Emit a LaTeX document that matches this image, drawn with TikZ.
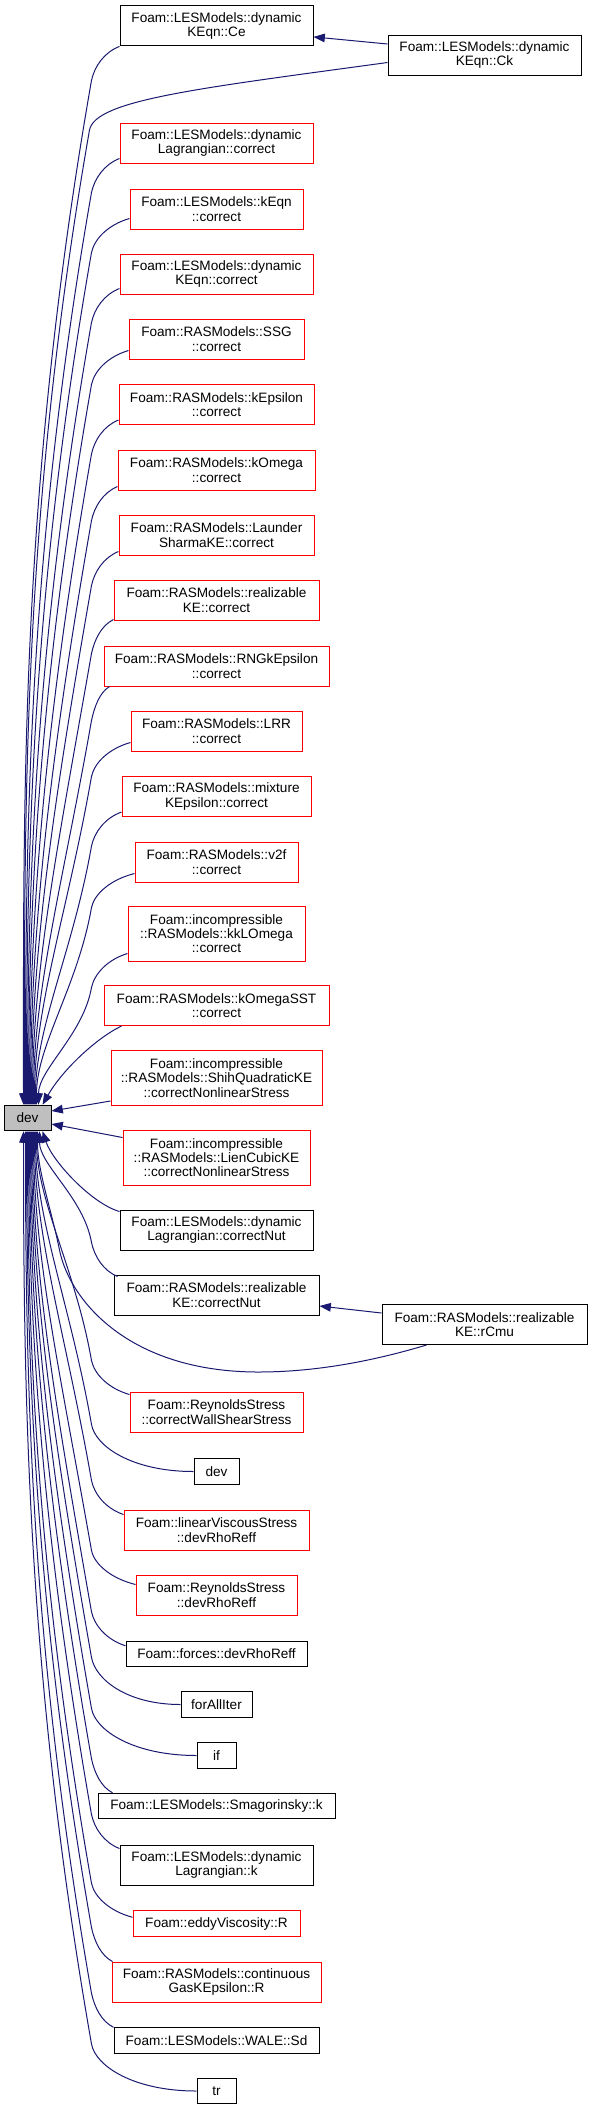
\documentclass[tikz,border=0pt]{standalone}
\usepackage{fontspec}
\setmainfont{Liberation Sans}
\usetikzlibrary{arrows.meta,calc}
\definecolor{edgecol}{HTML}{191970}
\definecolor{devfill}{HTML}{BFBFBF}
% upper edges: node, width(px), start dx, start dy (from south west), bottom y, end x offset on dev
\newcommand\UpEdge[6]{%
  \pgfmathsetmacro\ueSX{216.5-#2/2+#3}%
  \pgfmathsetmacro\ueDX{92-\ueSX}%
  \pgfmathsetmacro\ueCa{0.55*\ueDX}%
  \pgfmathsetmacro\ueD{1105-(#5+#4+34)}%
  \pgfmathsetmacro\ueA{-0.07*\ueD}%
  \pgfmathsetmacro\ueB{0.4*\ueD}%
  \pgfmathsetmacro\ueC{-0.3*\ueD}%
  \draw[edge] ($(#1.south west)+(#3,#4)$) .. controls +(\ueCa,6) and +(3,-14) .. ++(\ueDX,34)
    .. controls +(\ueA,\ueB) and +(0,\ueC) .. ($(dev.north west)+(#6,0)$);}
% lower edges: node, width(px), start dx, start dy (from north west), top y, end x offset on dev
\newcommand\LowEdge[6]{%
  \pgfmathsetmacro\leSX{216.5-#2/2+#3}%
  \pgfmathsetmacro\leDX{92-\leSX}%
  \pgfmathsetmacro\leCa{0.55*\leDX}%
  \pgfmathsetmacro\leD{(#5+#4-34)-1131}%
  \pgfmathsetmacro\leA{-0.07*\leD}%
  \pgfmathsetmacro\leB{-0.4*\leD}%
  \pgfmathsetmacro\leC{0.3*\leD}%
  \draw[edge] ($(#1.north west)+(#3,#4)$) .. controls +(\leCa,-6) and +(3,14) .. ++(\leDX,-34)
    .. controls +(\leA,\leB) and +(0,\leC) .. ($(dev.south west)+(#6,0)$);}
% lower single-line edges: node, width(px), centre y, end x offset on dev
\newcommand\LowEdgeS[4]{%
  \pgfmathsetmacro\lsSX{216.5-#2/2}%
  \pgfmathsetmacro\lsDX{92-\lsSX}%
  \pgfmathsetmacro\lsCa{0.6*\lsDX}%
  \pgfmathsetmacro\lsD{(#3-47)-1131}%
  \pgfmathsetmacro\lsA{-0.07*\lsD}%
  \pgfmathsetmacro\lsB{-0.4*\lsD}%
  \pgfmathsetmacro\lsC{0.3*\lsD}%
  \draw[edge] (#1.west) .. controls +(\lsCa,0) and +(4,22) .. ++(\lsDX,-47)
    .. controls +(\lsA,\lsB) and +(0,\lsC) .. ($(dev.south west)+(#4,0)$);}
\begin{document}
\begin{tikzpicture}[x=0.75pt,y=-0.75pt,
  nd/.style={draw, line width=0.75pt, fill=white, align=center, inner xsep=1pt, inner ysep=0pt,
             font=\fontsize{10.2}{10.75}\selectfont},
  rnd/.style={nd, draw=red},
  bnd/.style={nd, draw=black},
  one/.style={minimum height=19.1pt},
  two/.style={minimum height=30pt},
  three/.style={minimum height=41.25pt},
  wd/.style={minimum width=#1*0.75pt},
  edge/.style={draw=edgecol, line width=0.75pt, -{Triangle[length=8.5pt,width=6.5pt]}}]
\useasboundingbox (0,0) rectangle (592,2110);

% central node
\node[bnd, one, wd=47, fill=devfill] (dev) at (27.5,1118) {dev};

% callers above
\node[bnd, two, wd=193] (ce)  at (216.5,25.9) {Foam::LESModels::dynamic\\KEqn::Ce};
\node[bnd, two, wd=193] (ck)  at (484.5,55) {Foam::LESModels::dynamic\\KEqn::Ck};
\node[rnd, two, wd=193] (dlc) at (216.5,143) {Foam::LESModels::dynamic\\Lagrangian::correct};
\node[rnd, two, wd=173] (kec) at (216.5,209) {Foam::LESModels::kEqn\\::correct};
\node[rnd, two, wd=193] (dkc) at (216.5,274) {Foam::LESModels::dynamic\\KEqn::correct};
\node[rnd, two, wd=175] (ssg) at (216.5,339) {Foam::RASModels::SSG\\::correct};
\node[rnd, two, wd=195] (kep) at (216.5,404.5) {Foam::RASModels::kEpsilon\\::correct};
\node[rnd, two, wd=197] (kom) at (216.5,470) {Foam::RASModels::kOmega\\::correct};
\node[rnd, two, wd=195] (lsk) at (216.5,535) {Foam::RASModels::Launder\\SharmaKE::correct};
\node[rnd, two, wd=205] (rkc) at (216.5,600) {Foam::RASModels::realizable\\KE::correct};
\node[rnd, two, wd=225] (rng) at (216.5,666) {Foam::RASModels::RNGkEpsilon\\::correct};
\node[rnd, two, wd=171] (lrr) at (216.5,731) {Foam::RASModels::LRR\\::correct};
\node[rnd, two, wd=189] (mke) at (216.5,796.5) {Foam::RASModels::mixture\\KEpsilon::correct};
\node[rnd, two, wd=163] (v2f) at (216.5,862) {Foam::RASModels::v2f\\::correct};
\node[rnd, three, wd=177] (kkl) at (216.5,933.5) {Foam::incompressible\\::RASModels::kkLOmega\\::correct};
\node[rnd, two, wd=225] (kst) at (216.5,1005.5) {Foam::RASModels::kOmegaSST\\::correct};
\node[rnd, three, wd=211] (shih) at (216.5,1078) {Foam::incompressible\\::RASModels::ShihQuadraticKE\\::correctNonlinearStress};
\node[rnd, three, wd=187] (lien) at (216.5,1157.5) {Foam::incompressible\\::RASModels::LienCubicKE\\::correctNonlinearStress};

% callers below
\node[bnd, two, wd=193] (dln) at (216.5,1230) {Foam::LESModels::dynamic\\Lagrangian::correctNut};
\node[bnd, two, wd=205] (rkn) at (216.5,1295) {Foam::RASModels::realizable\\KE::correctNut};
\node[bnd, two, wd=205] (rcmu) at (484.5,1324.5) {Foam::RASModels::realizable\\KE::rCmu};
\node[rnd, two, wd=173] (wss) at (216.5,1412) {Foam::ReynoldsStress\\::correctWallShearStress};
\node[bnd, one, wd=45]  (dev2) at (216.5,1471.5) {dev};
\node[rnd, two, wd=185] (lvs) at (216.5,1530) {Foam::linearViscousStress\\::devRhoReff};
\node[rnd, two, wd=161] (rsd) at (216.5,1595) {Foam::ReynoldsStress\\::devRhoReff};
\node[bnd, one, wd=181] (frc) at (216.5,1654) {Foam::forces::devRhoReff};
\node[bnd, one, wd=71]  (fai) at (216.5,1704.5) {forAllIter};
\node[bnd, one, wd=39]  (ifn) at (216.5,1755.5) {if};
\node[bnd, one, wd=237] (smg) at (216.5,1806) {Foam::LESModels::Smagorinsky::k};
\node[bnd, two, wd=193] (dlk) at (216.5,1865) {Foam::LESModels::dynamic\\Lagrangian::k};
\node[rnd, one, wd=167] (edd) at (216.5,1923.5) {Foam::eddyViscosity::R};
\node[rnd, two, wd=209] (cgk) at (216.5,1982) {Foam::RASModels::continuous\\GasKEpsilon::R};
\node[bnd, one, wd=205] (wal) at (216.5,2040.5) {Foam::LESModels::WALE::Sd};
\node[bnd, one, wd=39]  (trn) at (216.5,2091) {tr};

% side edges
\draw[edge] ($(ck.west)+(0,-11)$) -- ($(ce.east)+(0,11)$);
\draw[edge] ($(rcmu.west)+(0,-11.5)$) -- ($(rkn.east)+(0,11)$);
\draw[edge] ($(shih.south west)+(0,-5)$) -- ($(dev.east)+(0,-7)$);
\draw[edge] ($(lien.north west)+(0,8)$) -- ($(dev.east)+(0,6)$);

% edges from above into dev
\UpEdge{ce}{193}{0}{0}{46}{20}
\draw[edge] ($(ck.west)+(0,7.5)$) .. controls +(-190,26) and +(6,-30) .. ++(-298,67.5)
   .. controls +(-68,390) and +(0,-292) .. ($(dev.north west)+(21,0)$);
\UpEdge{dlc}{193}{0}{-5}{163}{22}
\UpEdge{kec}{173}{0}{-11}{229}{23}
\UpEdge{dkc}{193}{0}{-6}{294}{24}
\UpEdge{ssg}{175}{0}{-9}{359}{25}
\UpEdge{kep}{195}{0}{-5}{425}{26}
\UpEdge{kom}{197}{0}{-4}{490}{27}
\UpEdge{lsk}{195}{0}{-4}{555}{28}
\UpEdge{rkc}{205}{0}{-1}{620}{29}
\UpEdge{rng}{225}{6}{0}{686}{30}
\UpEdge{lrr}{171}{0}{-9}{751}{31}
\UpEdge{mke}{189}{0}{-5}{817}{32}
\UpEdge{v2f}{163}{0}{-9}{882}{33}
\UpEdge{kkl}{177}{0}{-8}{961}{35}
\draw[edge] ($(kst.south west)+(18,0)$) .. controls +(-25,12) and +(20,-35) .. ($(dev.north west)+(39,0)$);

% edges from below into dev
\draw[edge] ($(dln.north west)+(0,2)$) .. controls +(-28,-8) and +(10,30) .. ($(dev.south west)+(39,0)$);
\LowEdge{rkn}{205}{4}{2}{1275}{36}
\draw[edge] ($(rcmu.south west)+(45,0)$) .. controls +(-50,15) and +(60,0) .. ++(-168,27)
   .. controls +(-130,0) and +(10,50) .. ++(-199,-122)
   .. controls +(-8,-40) and +(0,40) .. ($(dev.south west)+(34,0)$);
\LowEdge{wss}{173}{0}{3}{1392}{33}
\LowEdgeS{dev2}{45}{1471.5}{32}
\LowEdge{lvs}{185}{0}{5}{1510}{31}
\LowEdge{rsd}{161}{0}{10}{1575}{30}
\LowEdge{frc}{181}{0}{5}{1641}{29}
\LowEdgeS{fai}{71}{1704.5}{28}
\LowEdgeS{ifn}{39}{1755.5}{27}
\LowEdge{smg}{237}{15}{0}{1793}{26}
\LowEdge{dlk}{193}{0}{4}{1845}{25}
\LowEdge{edd}{167}{0}{7}{1911}{24}
\LowEdge{cgk}{209}{1}{0}{1962}{23}
\LowEdge{wal}{205}{0}{0}{2028}{22}
\LowEdgeS{trn}{39}{2091}{20}
\end{tikzpicture}
\end{document}
